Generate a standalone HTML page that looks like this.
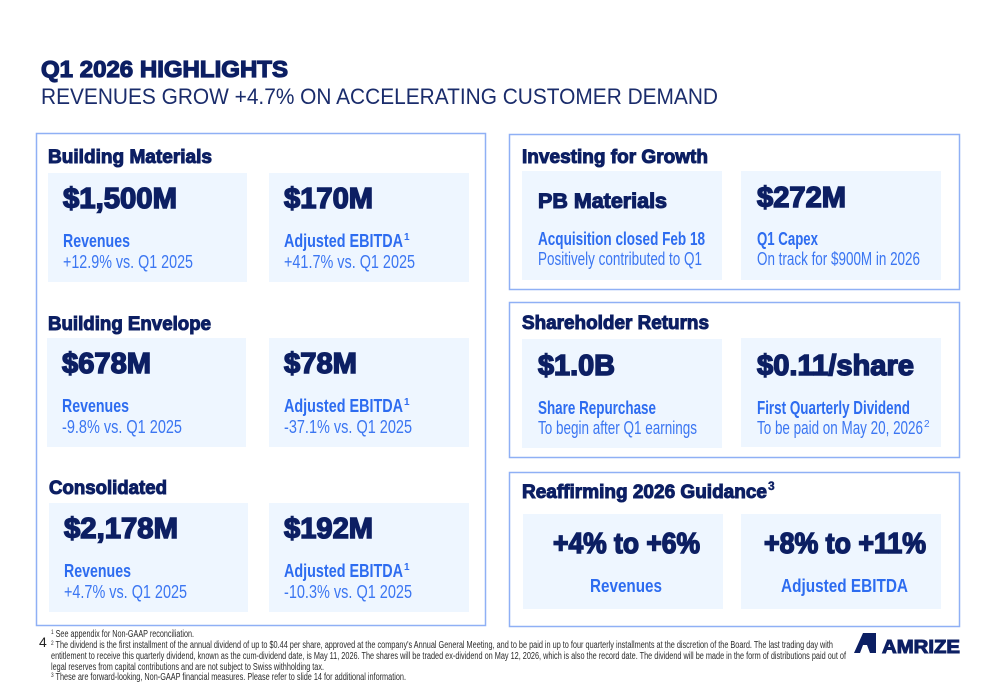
<!DOCTYPE html>
<html><head><meta charset="utf-8"><style>
html,body{margin:0;padding:0;background:#fff;width:1000px;height:685px;overflow:hidden}
svg{display:block}
.h{font-family:"Liberation Sans",sans-serif;font-weight:bold;fill:#0c1f63;stroke:#0c1f63;stroke-width:1px}
.v{font-family:"Liberation Sans",sans-serif;font-weight:bold;fill:#0c1f63;stroke:#0c1f63;stroke-width:1.5px}
.lb{font-family:"Liberation Sans Narrow","Liberation Sans",sans-serif;font-weight:bold;fill:#2d6cf0}
.lr{font-family:"Liberation Sans Narrow","Liberation Sans",sans-serif;fill:#3b76f2}
.fn{font-family:"Liberation Sans Narrow","Liberation Sans",sans-serif;fill:#2a2a2a;font-size:10px}
.box{fill:none;stroke:#8fb0f5;stroke-width:1.5}
.t{fill:#eef6ff}
</style></head><body>
<svg width="1000" height="685" viewBox="0 0 1000 685" xmlns="http://www.w3.org/2000/svg">
<text class="v" x="41" y="77" font-size="23" textLength="247" lengthAdjust="spacingAndGlyphs" style="stroke-width:1.2px">Q1 2026 HIGHLIGHTS</text>
<text x="41" y="104" font-size="22" fill="#1a2c6b" font-family="Liberation Sans, sans-serif" textLength="677" lengthAdjust="spacingAndGlyphs">REVENUES GROW +4.7% ON ACCELERATING CUSTOMER DEMAND</text>

<rect class="box" x="36.5" y="133.5" width="449" height="492"/>
<rect class="box" x="509.5" y="134.5" width="450" height="155"/>
<rect class="box" x="509.5" y="302.5" width="450" height="155"/>
<rect class="box" x="509.5" y="472.5" width="450" height="154"/>

<!-- tiles -->
<rect class="t" x="48" y="173" width="199" height="109"/>
<rect class="t" x="269" y="173" width="200" height="109"/>
<rect class="t" x="47" y="338" width="199" height="109"/>
<rect class="t" x="269" y="338" width="200" height="109"/>
<rect class="t" x="49" y="503" width="199" height="109"/>
<rect class="t" x="269" y="503" width="200" height="109"/>
<rect class="t" x="522" y="171" width="200" height="109"/>
<rect class="t" x="741" y="171" width="200" height="109"/>
<rect class="t" x="522" y="339" width="200" height="109"/>
<rect class="t" x="741" y="338" width="200" height="109"/>
<rect class="t" x="523" y="514" width="200" height="95"/>
<rect class="t" x="741" y="514" width="200" height="95"/>

<!-- headings -->
<text class="h" x="48" y="163" font-size="19" textLength="164" lengthAdjust="spacingAndGlyphs">Building Materials</text>
<text class="h" x="48" y="330" font-size="19" textLength="163" lengthAdjust="spacingAndGlyphs">Building Envelope</text>
<text class="h" x="49" y="494" font-size="19" textLength="118" lengthAdjust="spacingAndGlyphs">Consolidated</text>
<text class="h" x="522" y="163" font-size="19" textLength="186" lengthAdjust="spacingAndGlyphs">Investing for Growth</text>
<text class="h" x="522" y="329" font-size="19" textLength="187" lengthAdjust="spacingAndGlyphs">Shareholder Returns</text>
<text class="h" x="522" y="498" font-size="19" textLength="245" lengthAdjust="spacingAndGlyphs">Reaffirming 2026 Guidance</text>
<text class="h" x="768" y="490" font-size="12" style="stroke-width:0.4px">3</text>

<!-- values -->
<text class="v" x="63" y="208" font-size="29" textLength="114" lengthAdjust="spacingAndGlyphs">$1,500M</text>
<text class="v" x="284" y="208" font-size="29" textLength="89" lengthAdjust="spacingAndGlyphs">$170M</text>
<text class="v" x="62" y="373" font-size="29" textLength="89" lengthAdjust="spacingAndGlyphs">$678M</text>
<text class="v" x="284" y="373" font-size="29" textLength="73" lengthAdjust="spacingAndGlyphs">$78M</text>
<text class="v" x="64" y="538" font-size="29" textLength="114" lengthAdjust="spacingAndGlyphs">$2,178M</text>
<text class="v" x="284" y="538" font-size="29" textLength="89" lengthAdjust="spacingAndGlyphs">$192M</text>
<text class="v" x="538" y="208" font-size="21" textLength="129" lengthAdjust="spacingAndGlyphs" style="stroke-width:1.1px">PB Materials</text>
<text class="v" x="757" y="207" font-size="29" textLength="89" lengthAdjust="spacingAndGlyphs">$272M</text>
<text class="v" x="538" y="375" font-size="29" textLength="77" lengthAdjust="spacingAndGlyphs">$1.0B</text>
<text class="v" x="757" y="375" font-size="29" textLength="157" lengthAdjust="spacingAndGlyphs">$0.11/share</text>
<text class="v" x="553" y="553" font-size="29" textLength="147" lengthAdjust="spacingAndGlyphs">+4% to +6%</text>
<text class="v" x="764" y="553" font-size="29" textLength="162" lengthAdjust="spacingAndGlyphs">+8% to +11%</text>

<!-- labels -->
<text class="lb" x="63" y="247" font-size="18" textLength="67" lengthAdjust="spacingAndGlyphs">Revenues</text>
<text class="lr" x="63" y="268" font-size="18" textLength="130" lengthAdjust="spacingAndGlyphs">+12.9% vs. Q1 2025</text>
<text class="lb" x="284" y="247" font-size="18" textLength="119" lengthAdjust="spacingAndGlyphs">Adjusted EBITDA</text>
<text class="lb" x="404" y="240" font-size="10">1</text>
<text class="lr" x="284" y="268" font-size="18" textLength="131" lengthAdjust="spacingAndGlyphs">+41.7% vs. Q1 2025</text>

<text class="lb" x="62" y="412" font-size="18" textLength="67" lengthAdjust="spacingAndGlyphs">Revenues</text>
<text class="lr" x="62" y="433" font-size="18" textLength="120" lengthAdjust="spacingAndGlyphs">-9.8% vs. Q1 2025</text>
<text class="lb" x="284" y="412" font-size="18" textLength="119" lengthAdjust="spacingAndGlyphs">Adjusted EBITDA</text>
<text class="lb" x="404" y="405" font-size="10">1</text>
<text class="lr" x="284" y="433" font-size="18" textLength="128" lengthAdjust="spacingAndGlyphs">-37.1% vs. Q1 2025</text>

<text class="lb" x="64" y="577" font-size="18" textLength="67" lengthAdjust="spacingAndGlyphs">Revenues</text>
<text class="lr" x="64" y="598" font-size="18" textLength="123" lengthAdjust="spacingAndGlyphs">+4.7% vs. Q1 2025</text>
<text class="lb" x="284" y="577" font-size="18" textLength="119" lengthAdjust="spacingAndGlyphs">Adjusted EBITDA</text>
<text class="lb" x="404" y="570" font-size="10">1</text>
<text class="lr" x="284" y="598" font-size="18" textLength="128" lengthAdjust="spacingAndGlyphs">-10.3% vs. Q1 2025</text>

<text class="lb" x="538" y="245" font-size="18" textLength="167" lengthAdjust="spacingAndGlyphs">Acquisition closed Feb 18</text>
<text class="lr" x="538" y="265" font-size="18" textLength="164" lengthAdjust="spacingAndGlyphs">Positively contributed to Q1</text>
<text class="lb" x="757" y="245" font-size="18" textLength="61" lengthAdjust="spacingAndGlyphs">Q1 Capex</text>
<text class="lr" x="757" y="265" font-size="18" textLength="163" lengthAdjust="spacingAndGlyphs">On track for $900M in 2026</text>

<text class="lb" x="538" y="414" font-size="18" textLength="118" lengthAdjust="spacingAndGlyphs">Share Repurchase</text>
<text class="lr" x="538" y="434" font-size="18" textLength="159" lengthAdjust="spacingAndGlyphs">To begin after Q1 earnings</text>
<text class="lb" x="757" y="414" font-size="18" textLength="153" lengthAdjust="spacingAndGlyphs">First Quarterly Dividend</text>
<text class="lr" x="757" y="434" font-size="18" textLength="166" lengthAdjust="spacingAndGlyphs">To be paid on May 20, 2026</text>
<text class="lr" x="924" y="427" font-size="10">2</text>

<text class="lb" x="590" y="592" font-size="18" textLength="72" lengthAdjust="spacingAndGlyphs">Revenues</text>
<text class="lb" x="781" y="592" font-size="18" textLength="127" lengthAdjust="spacingAndGlyphs">Adjusted EBITDA</text>

<!-- footer -->
<text x="39" y="647" font-size="14" fill="#222" font-family="Liberation Sans, sans-serif">4</text>
<text class="fn" x="51" y="637" textLength="143" lengthAdjust="spacingAndGlyphs"><tspan font-size="6.5" dy="-3">1</tspan><tspan dy="3"> See appendix for Non-GAAP reconciliation.</tspan></text>
<text class="fn" x="51" y="648" textLength="782" lengthAdjust="spacingAndGlyphs"><tspan font-size="6.5" dy="-3">2</tspan><tspan dy="3"> The dividend is the first installment of the annual dividend of up to $0.44 per share, approved at the company's Annual General Meeting, and to be paid in up to four quarterly installments at the discretion of the Board. The last trading day with</tspan></text>
<text class="fn" x="51" y="659" textLength="795" lengthAdjust="spacingAndGlyphs">entitlement to receive this quarterly dividend, known as the cum-dividend date, is May 11, 2026. The shares will be traded ex-dividend on May 12, 2026, which is also the record date. The dividend will be made in the form of distributions paid out of</text>
<text class="fn" x="51" y="670" textLength="273" lengthAdjust="spacingAndGlyphs">legal reserves from capital contributions and are not subject to Swiss withholding tax.</text>
<text class="fn" x="51" y="680" textLength="355" lengthAdjust="spacingAndGlyphs"><tspan font-size="6.5" dy="-3">3</tspan><tspan dy="3"> These are forward-looking, Non-GAAP financial measures. Please refer to slide 14 for additional information.</tspan></text>

<!-- logo -->
<polygon points="854,653 863,633 876,633 876,653 870,653 867,645 863,645 860,653" fill="#0c1f63"/>
<text class="v" x="882" y="653" font-size="18" textLength="78" lengthAdjust="spacingAndGlyphs" style="stroke-width:1px">AMRIZE</text>
</svg>
</body></html>
